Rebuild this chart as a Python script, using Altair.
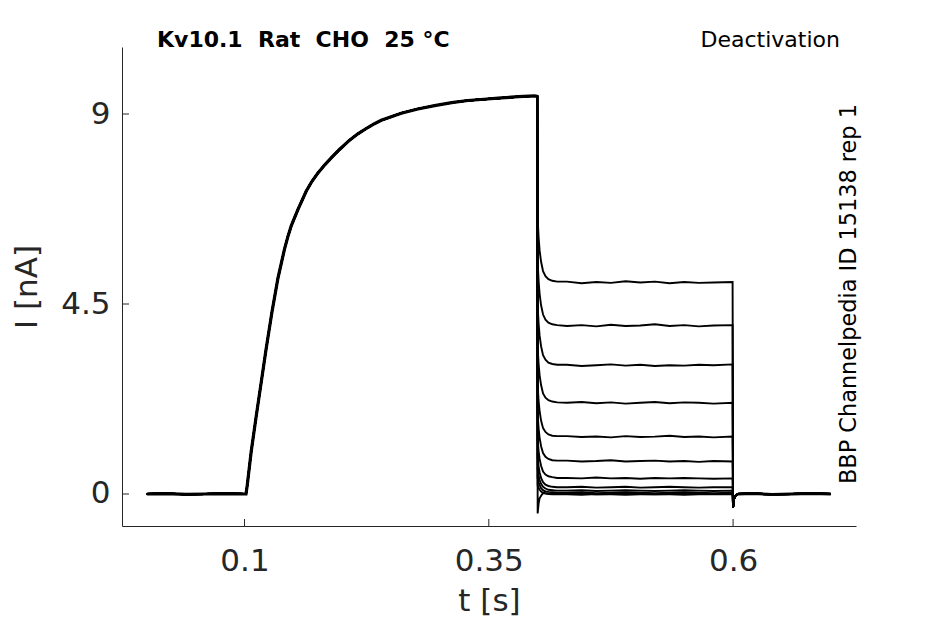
import altair as alt
import pandas as pd

# time grids [s] and currents [nA]
t_pre = [0.0, 0.02, 0.04, 0.06, 0.08, 0.1]
i_pre = [0.0, 0.01, -0.01, 0.0, 0.01, 0.0]

t_act = [0.1015, 0.1028, 0.1068, 0.1120, 0.1171, 0.1222, 0.1280, 0.1341, 0.1409, 0.1443,
         0.1478, 0.1545, 0.1631, 0.1689, 0.1750, 0.1819, 0.1887, 0.1972, 0.2075, 0.2160,
         0.2262, 0.2330, 0.2399, 0.2604, 0.2774, 0.2945, 0.3120, 0.3286, 0.3450, 0.3627,
         0.3800, 0.3968, 0.3996]
i_act = [0.0, 0.21, 1.00, 1.85, 2.65, 3.45, 4.30, 5.10, 5.80, 6.09,
         6.35, 6.73, 7.17, 7.40, 7.60, 7.79, 7.96, 8.16, 8.38, 8.53,
         8.68, 8.77, 8.85, 9.02, 9.12, 9.20, 9.27, 9.32, 9.35, 9.38,
         9.41, 9.43, 9.42]

t_tail = [0.4, 0.401, 0.402, 0.4035, 0.4055, 0.408, 0.411, 0.415, 0.42]
i_tail = [
    [6.52, 6.07, 5.77, 5.50, 5.28, 5.16, 5.09, 5.05, 5.03],
    [5.49, 5.04, 4.74, 4.47, 4.25, 4.13, 4.06, 4.02, 4.00],
    [4.45, 4.03, 3.75, 3.50, 3.29, 3.18, 3.11, 3.08, 3.06],
    [3.46, 3.07, 2.81, 2.58, 2.38, 2.28, 2.22, 2.19, 2.17],
    [2.56, 2.20, 1.96, 1.74, 1.56, 1.47, 1.41, 1.38, 1.37],
    [1.88, 1.55, 1.33, 1.13, 0.97, 0.88, 0.83, 0.80, 0.79],
    [1.28, 1.01, 0.83, 0.67, 0.53, 0.46, 0.42, 0.40, 0.38],
    [0.86, 0.65, 0.51, 0.38, 0.28, 0.22, 0.19, 0.17, 0.16],
    [0.58, 0.43, 0.33, 0.24, 0.17, 0.13, 0.10, 0.09, 0.08],
    [0.38, 0.28, 0.21, 0.14, 0.09, 0.06, 0.05, 0.04, 0.03],
    [0.20, 0.14, 0.10, 0.06, 0.03, 0.02, 0.01, 0.0, 0.0],
    [-0.46, -0.22, -0.10, -0.04, 0.02, 0.01, 0.0, -0.01, -0.01],
]

t_steady = [0.43, 0.445, 0.46, 0.475, 0.49, 0.505, 0.52, 0.535, 0.55, 0.565, 0.58, 0.5995]
i_steady = [
    [5.03, 4.99, 5.02, 5.00, 5.04, 5.01, 5.03, 4.99, 5.02, 5.00, 5.01, 5.02],
    [3.98, 4.00, 3.97, 4.01, 3.98, 3.99, 4.02, 3.98, 4.00, 3.97, 3.99, 4.00],
    [3.06, 3.03, 3.05, 3.07, 3.04, 3.06, 3.03, 3.05, 3.04, 3.06, 3.05, 3.07],
    [2.16, 2.18, 2.15, 2.17, 2.14, 2.16, 2.18, 2.15, 2.17, 2.16, 2.14, 2.16],
    [1.37, 1.35, 1.36, 1.34, 1.37, 1.35, 1.36, 1.38, 1.35, 1.36, 1.34, 1.36],
    [0.79, 0.77, 0.78, 0.80, 0.77, 0.78, 0.79, 0.77, 0.78, 0.76, 0.78, 0.77],
    [0.38, 0.37, 0.39, 0.37, 0.38, 0.36, 0.38, 0.37, 0.38, 0.37, 0.36, 0.37],
    [0.16, 0.17, 0.15, 0.16, 0.17, 0.15, 0.16, 0.17, 0.16, 0.15, 0.16, 0.16],
    [0.08, 0.09, 0.07, 0.08, 0.09, 0.08, 0.07, 0.08, 0.09, 0.08, 0.07, 0.08],
    [0.03, 0.04, 0.02, 0.03, 0.04, 0.03, 0.02, 0.03, 0.04, 0.03, 0.02, 0.03],
    [0.00, 0.01, -0.01, 0.00, 0.01, 0.00, -0.01, 0.00, 0.01, 0.00, 0.00, 0.01],
    [-0.01, -0.02, 0.00, -0.01, -0.02, -0.01, 0.00, -0.01, -0.02, -0.01, 0.00, -0.01],
]

t_post = [0.6, 0.601, 0.6025, 0.605, 0.62, 0.64, 0.66, 0.68, 0.7]
i_post = [-0.32, -0.12, -0.04, 0.0, 0.01, -0.01, 0.0, 0.01, 0.0]

x_ticks = [0.1, 0.35, 0.6]
y_ticks = [0, 4.5, 9]

AXIS_COLOR = "#262626"
FONT = "DejaVu Sans"

rows = []
for k in range(len(i_tail)):
    ts = t_pre + t_act + t_tail + t_steady + t_post
    cur = i_pre + i_act + i_tail[k] + i_steady[k] + i_post
    for n, (t, c) in enumerate(zip(ts, cur)):
        rows.append({"t": t, "I": c, "trace": k, "idx": n})
traces = pd.DataFrame(rows)

# the part every sweep shares (holding + activation), drawn heavier like the overlaid noisy sweeps
shared = pd.DataFrame({"t": t_pre + t_act, "I": i_pre + i_act})
shared["idx"] = range(len(shared))
after = pd.DataFrame({"t": t_post[3:], "I": i_post[3:]})

x_scale = alt.Scale(domain=[-0.0254, 0.7258], nice=False, zero=False)
y_scale = alt.Scale(domain=[-0.758, 10.587], nice=False, zero=False)

x_axis = alt.Axis(values=x_ticks, format=".3~g", tickSize=0, grid=False,
                  labelFont=FONT, labelFontSize=31, labelColor=AXIS_COLOR,
                  labelPadding=20, domainColor=AXIS_COLOR,
                  titleFont=FONT, titleFontSize=31, titleFontWeight="normal",
                  titleColor=AXIS_COLOR, titlePadding=10)
y_axis = alt.Axis(values=y_ticks, format=".3~g", tickSize=0, grid=False,
                  labelFont=FONT, labelFontSize=31, labelColor=AXIS_COLOR,
                  labelPadding=12, domainColor=AXIS_COLOR,
                  titleFont=FONT, titleFontSize=31, titleFontWeight="normal",
                  titleColor=AXIS_COLOR, titlePadding=17)

x_enc = alt.X("t:Q", scale=x_scale, title="t [s]", axis=x_axis)
y_enc = alt.Y("I:Q", scale=y_scale, title="I [nA]", axis=y_axis)

lines = alt.Chart(traces).mark_line(color="black", strokeWidth=1.9).encode(
    x=x_enc, y=y_enc, detail="trace:N", order="idx:Q",
)
shared_line = alt.Chart(shared).mark_line(color="black", strokeWidth=3.2).encode(
    x=x_enc, y=y_enc, order="idx:Q",
)
after_line = alt.Chart(after).mark_line(color="black", strokeWidth=2.8).encode(
    x=x_enc, y=y_enc,
)

# inward tick marks
x_tick_marks = alt.Chart(pd.DataFrame({"t": x_ticks})).mark_rule(color=AXIS_COLOR).encode(
    x=x_enc, y=alt.value(479), y2=alt.value(472),
)
y_tick_marks = alt.Chart(pd.DataFrame({"I": y_ticks})).mark_rule(color=AXIS_COLOR).encode(
    y=y_enc, x=alt.value(0), x2=alt.value(7),
)

label_df = pd.DataFrame({"a": [0]})
title_left = alt.Chart(label_df).mark_text(
    text="Kv10.1\u00a0 Rat\u00a0 CHO\u00a0 25 °C", font=FONT, fontSize=22, fontWeight="bold",
    align="left", baseline="alphabetic", color="black",
).encode(x=alt.value(35), y=alt.value(0))
title_right = alt.Chart(label_df).mark_text(
    text="Deactivation", font=FONT, fontSize=22, align="right",
    baseline="alphabetic", color="black",
).encode(x=alt.value(718), y=alt.value(0))
side_note = alt.Chart(label_df).mark_text(
    text="BBP Channelpedia ID 15138 rep 1", font=FONT, fontSize=22.4, angle=270,
    align="left", baseline="alphabetic", color="black",
).encode(x=alt.value(734), y=alt.value(437))

chart = alt.layer(
    lines, shared_line, after_line, x_tick_marks, y_tick_marks,
    title_left, title_right, side_note
).properties(
    width=734, height=479,
    padding={"left": 114, "top": 39, "right": 81, "bottom": 90},
    autosize=alt.AutoSizeParams(type="none"),
    background="white",
).configure_view(stroke=None)

chart.save("out.html", embed_options={"renderer": "svg", "actions": False})
